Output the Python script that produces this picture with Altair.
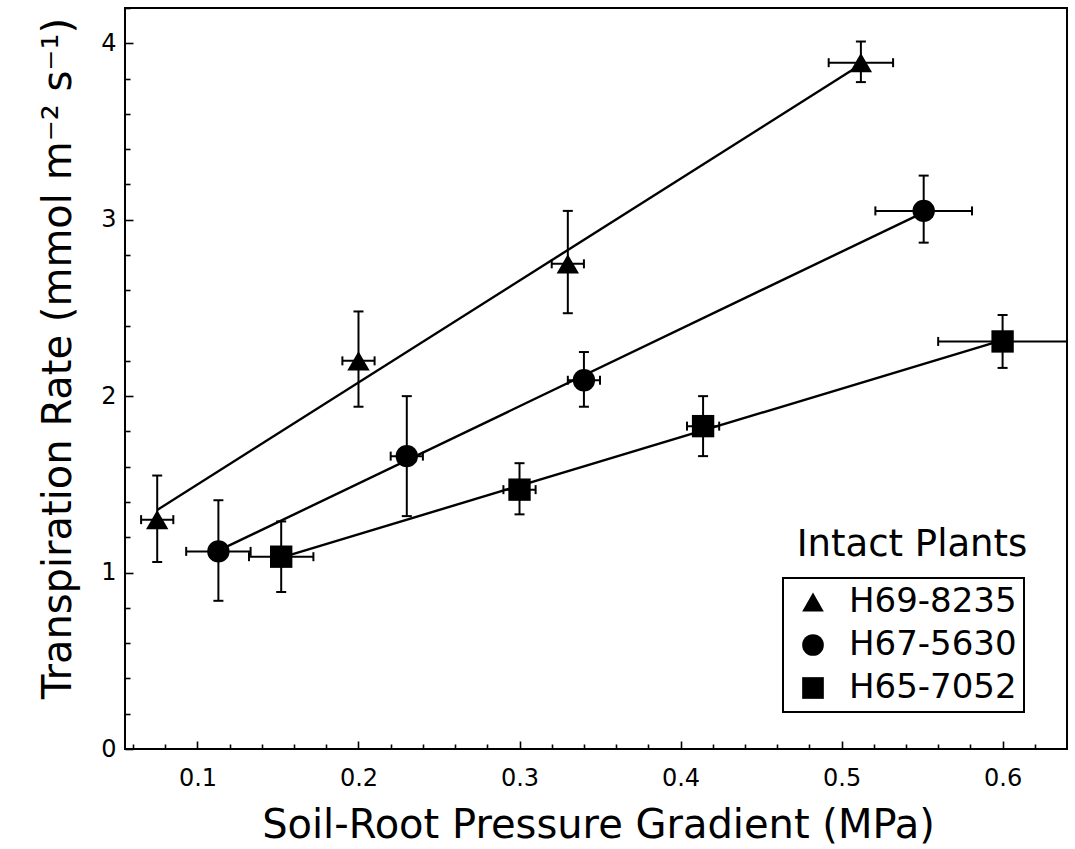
import altair as alt
import pandas as pd

FONT = "DejaVu Sans"

varieties = ["H69-8235", "H67-5630", "H65-7052"]
shapes = ["triangle-up", "circle", "square"]
legend_title = "Intact Plants"

tri_x = [0.075, 0.20, 0.33, 0.512]
tri_y = [1.30, 2.20, 2.75, 3.89]
tri_y_lo = [1.06, 1.94, 2.47, 3.78]
tri_y_hi = [1.55, 2.48, 3.05, 4.01]
tri_x_err = [0.01, 0.01, 0.01, 0.02]

circ_x = [0.113, 0.23, 0.34, 0.551]
circ_y = [1.12, 1.66, 2.09, 3.05]
circ_y_lo = [0.84, 1.32, 1.94, 2.87]
circ_y_hi = [1.41, 2.00, 2.25, 3.25]
circ_x_err = [0.02, 0.01, 0.01, 0.03]

sq_x = [0.152, 0.30, 0.414, 0.60]
sq_y = [1.09, 1.47, 1.83, 2.31]
sq_y_lo = [0.89, 1.33, 1.66, 2.16]
sq_y_hi = [1.29, 1.62, 2.00, 2.46]
sq_x_err = [0.02, 0.01, 0.01, 0.04]

x_major = [0.1, 0.2, 0.3, 0.4, 0.5, 0.6]
x_minor = [0.06, 0.08, 0.12, 0.14, 0.16, 0.18, 0.22, 0.24, 0.26, 0.28,
           0.32, 0.34, 0.36, 0.38, 0.42, 0.44, 0.46, 0.48, 0.52, 0.54,
           0.56, 0.58, 0.62]
y_major = [0, 1, 2, 3, 4]
y_minor = [0.2, 0.4, 0.6, 0.8, 1.2, 1.4, 1.6, 1.8, 2.2, 2.4, 2.6, 2.8,
           3.2, 3.4, 3.6, 3.8, 4.2]

rows = []
for name, xs_, ys_, lo, hi, xe in [
    (varieties[0], tri_x, tri_y, tri_y_lo, tri_y_hi, tri_x_err),
    (varieties[1], circ_x, circ_y, circ_y_lo, circ_y_hi, circ_x_err),
    (varieties[2], sq_x, sq_y, sq_y_lo, sq_y_hi, sq_x_err),
]:
    for a, b, l, h, e in zip(xs_, ys_, lo, hi, xe):
        rows.append({"variety": name, "x": a, "y": b, "ylo": l, "yhi": h,
                     "xlo": a - e, "xhi": a + e})
df = pd.DataFrame(rows)

xscale = alt.Scale(domain=[0.055, 0.64], nice=False, zero=False)
yscale = alt.Scale(domain=[0, 4.2], nice=False, zero=False)

ax_x_major = alt.Axis(values=x_major, format=".1f", orient="bottom",
                      tickSize=8, offset=-8, domain=False, grid=False,
                      labelPadding=17, labelFontSize=24,
                      title="Soil-Root Pressure Gradient (MPa)",
                      titleFontSize=40, titleX=473, titleY=96,
                      titleBaseline="alphabetic", titleAlign="center")
ax_x_minor = alt.Axis(values=x_minor, orient="bottom", labels=False,
                      tickSize=5, offset=-5, domain=False, grid=False,
                      title=None)
ax_y_major = alt.Axis(values=y_major, format="d", orient="left",
                      tickSize=8, offset=-8, domain=False, grid=False,
                      labelPadding=9, labelFontSize=24,
                      title="Transpiration Rate (mmol m\u207b\u00b2 s\u207b\u00b9)",
                      titleFontSize=40, titleX=-63, titleY=350,
                      titleBaseline="alphabetic", titleAlign="center",
                      titleAngle=270)
ax_y_minor = alt.Axis(values=y_minor, orient="left", labels=False,
                      tickSize=5, offset=-5, domain=False, grid=False,
                      title=None)

base = alt.Chart(df)

lines = base.transform_regression(
    "x", "y", groupby=["variety"]
).mark_line(color="black", strokeWidth=2.4).encode(
    x=alt.X("x:Q", scale=xscale, axis=ax_x_major),
    y=alt.Y("y:Q", scale=yscale, axis=ax_y_major),
    detail="variety:N",
)

ybars = base.mark_rule(color="black", strokeWidth=2).encode(
    x=alt.X("x:Q", scale=xscale, axis=None),
    y=alt.Y("ylo:Q", scale=yscale, axis=None),
    y2="yhi:Q",
)
ycaps = base.transform_fold(["ylo", "yhi"], as_=["k", "v"]).mark_tick(
    color="black", thickness=2, size=10, orient="horizontal", opacity=1
).encode(
    x=alt.X("x:Q", scale=xscale, axis=None),
    y=alt.Y("v:Q", scale=yscale, axis=None),
)
xbars = base.mark_rule(color="black", strokeWidth=2).encode(
    x=alt.X("xlo:Q", scale=xscale, axis=None),
    x2="xhi:Q",
    y=alt.Y("y:Q", scale=yscale, axis=None),
)
xcaps = base.transform_fold(["xlo", "xhi"], as_=["k", "v"]).mark_tick(
    color="black", thickness=2, size=9, orient="vertical", opacity=1
).encode(
    x=alt.X("v:Q", scale=xscale, axis=None),
    y=alt.Y("y:Q", scale=yscale, axis=None),
)

points = base.mark_point(filled=True, color="black", opacity=1, size=500).encode(
    x=alt.X("x:Q", scale=xscale, axis=ax_x_minor),
    y=alt.Y("y:Q", scale=yscale, axis=ax_y_minor),
    shape=alt.Shape("variety:N",
                    scale=alt.Scale(domain=varieties, range=shapes),
                    legend=alt.Legend(orient="none", legendX=658, legendY=570,
                                      title=None, strokeColor="black",
                                      padding=7, rowPadding=9,
                                      labelFontSize=34, labelOffset=19,
                                      labelLimit=400,
                                      labelExpr="datum.label + '\u00a0\u00a0'",
                                      symbolSize=470, symbolOffset=6,
                                      symbolFillColor="black",
                                      symbolStrokeColor="black")),
)

title_df = pd.DataFrame({"t": [legend_title]})
leg_title = alt.Chart(title_df).mark_text(
    font=FONT, fontSize=37, color="black", align="center",
    baseline="alphabetic"
).encode(x=alt.value(787), y=alt.value(548), text="t:N")

chart = alt.layer(lines, ybars, ycaps, xbars, xcaps, points, leg_title).resolve_axis(
    x="independent", y="independent"
).properties(
    width=942, height=741, autosize="none",
    padding={"left": 125, "top": 8, "right": 8, "bottom": 100},
    background="white",
).configure_view(
    stroke="black", strokeWidth=2
).configure_axis(
    labelFont=FONT, titleFont=FONT, labelColor="black", titleColor="black",
    tickColor="black", tickWidth=1.6, titleFontWeight="normal",
).configure_legend(
    labelFont=FONT, labelColor="black", strokeWidth=2,
)

chart.save("out.html", embed_options={"renderer": "svg", "actions": False})
